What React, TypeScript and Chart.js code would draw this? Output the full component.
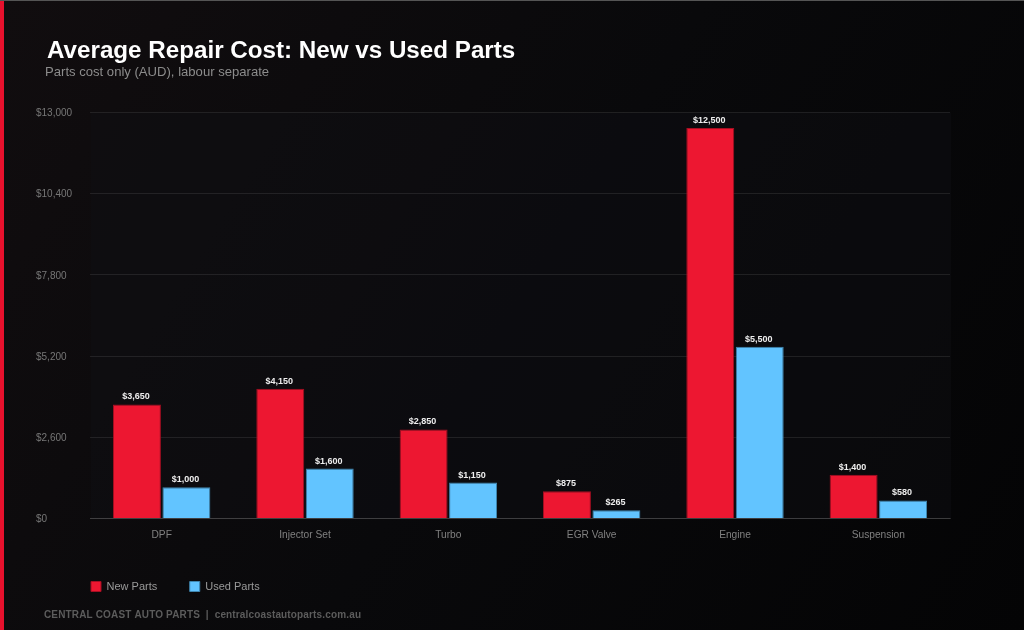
import React, { useEffect, useRef } from "react";
import { Chart, registerables } from "chart.js";

Chart.register(...registerables);

const categories = ["DPF", "Injector Set", "Turbo", "EGR Valve", "Engine", "Suspension"];
const newParts = [3650, 4150, 2850, 875, 12500, 1400];
const usedParts = [1000, 1600, 1150, 265, 5500, 580];
const titleText = "Average Repair Cost: New vs Used Parts";
const subtitleText = "Parts cost only (AUD), labour separate";
const footerText = "CENTRAL COAST AUTO PARTS  |  centralcoastautoparts.com.au";
const FONT = "'Liberation Sans', Arial, sans-serif";

const frame = {
  id: "frame",
  afterLayout(chart: any) {
    if (chart.titleBlock) chart.titleBlock.left = 47;
    const sub = chart.boxes.find((b: any) => b.options && b !== chart.titleBlock && b.options.text === subtitleText);
    if (sub) sub.left = 45;
    if (chart.legend) {
      chart.legend.left = 58.5;
      chart.legend.top -= 1;
    }
  },
  beforeDraw(chart: any) {
    const { ctx, chartArea: a, width, height } = chart;
    ctx.save();
    const g = ctx.createLinearGradient(0, 0, width, height);
    g.addColorStop(0, "#110d0f");
    g.addColorStop(0.5, "#09090b");
    g.addColorStop(1, "#040405");
    ctx.fillStyle = g;
    ctx.fillRect(0, 0, width, height);
    ctx.fillStyle = "rgba(16,16,20,0.45)";
    ctx.fillRect(a.left + 1, a.top, a.right - a.left, a.bottom - a.top);
    ctx.fillStyle = "#e8112d";
    ctx.fillRect(0, 0, 4, height);
    ctx.fillStyle = "#555555";
    ctx.fillRect(0, 0, width, 1);
    ctx.restore();
  },
  afterDraw(chart: any) {
    const { ctx } = chart;
    ctx.save();
    ctx.font = `bold 10px ${FONT}`;
    ctx.fillStyle = "#5c5c5c";
    ctx.textAlign = "left";
    ctx.textBaseline = "middle";
    (ctx as any).letterSpacing = "0.15px";
    ctx.fillText(footerText, 44, 615);
    ctx.restore();
  },
};

const barValues = {
  id: "barValues",
  afterDatasetsDraw(chart: any) {
    const { ctx } = chart;
    ctx.save();
    ctx.font = `bold 9px ${FONT}`;
    ctx.fillStyle = "#eeeeee";
    ctx.textAlign = "center";
    ctx.textBaseline = "alphabetic";
    chart.data.datasets.forEach((ds: any, i: number) => {
      chart.getDatasetMeta(i).data.forEach((el: any, j: number) => {
        ctx.fillText("$" + Number(ds.data[j]).toLocaleString("en-US"), el.x - 1, el.y - 5);
      });
    });
    ctx.restore();
  },
};

export default function App() {
  const ref = useRef<HTMLCanvasElement>(null);
  useEffect(() => {
    document.body.style.margin = "0";
    document.body.style.background = "#000";
    const chart = new Chart(ref.current!, {
      type: "bar",
      data: {
        labels: categories,
        datasets: [
          { label: "New Parts", data: newParts, backgroundColor: "#ed1731", borderColor: "#a50f22", borderWidth: 1, categoryPercentage: 0.69, barPercentage: 0.97 },
          { label: "Used Parts", data: usedParts, backgroundColor: "#62c4ff", borderColor: "#3f86b0", borderWidth: 1, categoryPercentage: 0.69, barPercentage: 0.97 },
        ],
      },
      options: {
        responsive: false,
        animation: false,
        layout: { padding: { left: 36, right: 74, top: 36.6, bottom: 27 } },
        scales: {
          x: {
            afterFit: (s: any) => { s.height = 31; },
            grid: { display: false, drawTicks: false },
            border: { color: "rgba(255,255,255,0.14)" },
            ticks: { color: "#808080", font: { size: 10.2, family: FONT }, padding: 11, maxRotation: 0 },
          },
          y: {
            min: 0,
            max: 13000,
            afterFit: (s: any) => { s.width = 54; },
            grid: { color: "rgba(255,255,255,0.09)", drawTicks: false },
            border: { display: false },
            ticks: {
              stepSize: 2600,
              color: "#777777",
              crossAlign: "far",
              labelOffset: 1,
              font: { size: 10, family: FONT },
              callback: (v: any) => "$" + Number(v).toLocaleString("en-US"),
            },
          },
        },
        plugins: {
          title: { display: true, text: titleText, align: "start", color: "#ffffff", font: { size: 24.2, weight: "bold", family: FONT }, padding: { top: 0, bottom: -1 } },
          subtitle: { display: true, text: subtitleText, align: "start", color: "#8c8c8c", font: { size: 13.1, family: FONT }, padding: { top: 0, bottom: 32 } },
          legend: {
            position: "bottom",
            align: "start",
            labels: { boxWidth: 10, boxHeight: 10, padding: 32.5, color: "#9a9a9a", font: { size: 11, family: FONT } },
          },
          tooltip: { enabled: false },
        },
      } as any,
      plugins: [frame, barValues],
    });
    return () => chart.destroy();
  }, []);
  return <canvas ref={ref} width={1024} height={630} style={{ position: "fixed", left: 0, top: 0, width: 1024, height: 630, display: "block" }} />;
}
